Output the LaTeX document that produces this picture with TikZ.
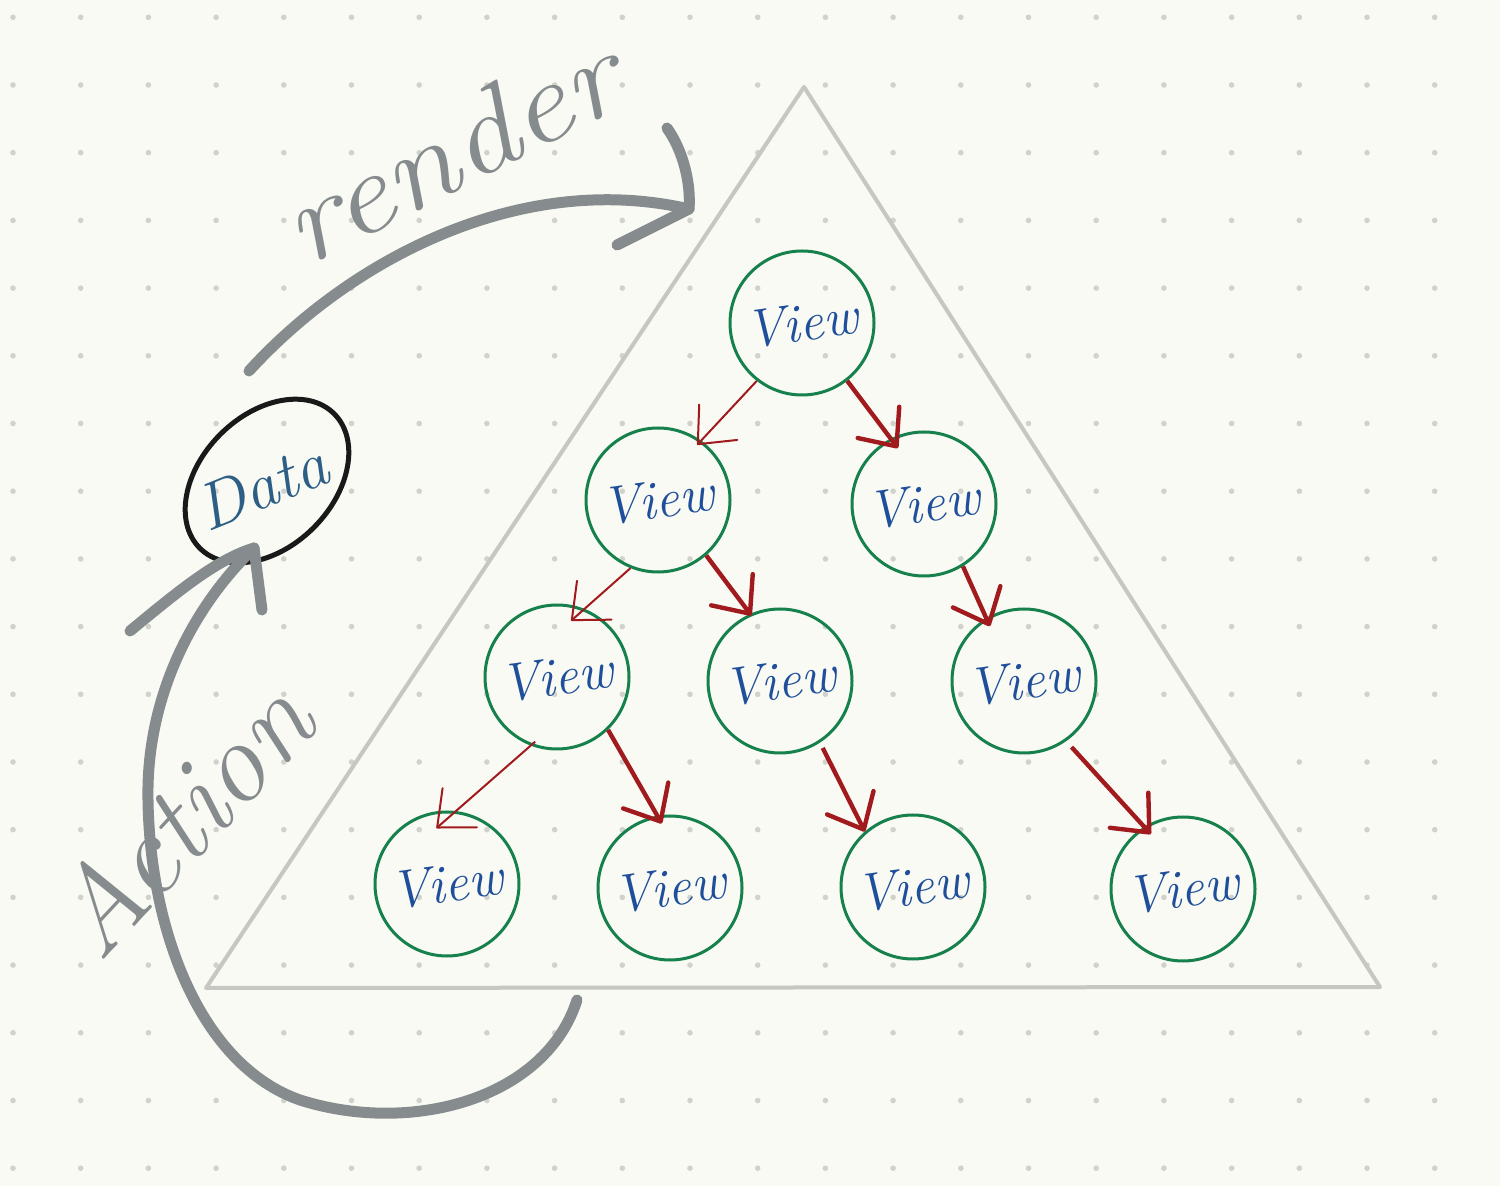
\documentclass[tikz,border=0pt]{standalone}
\usepackage{fontspec}
\usepackage{graphicx}
\usetikzlibrary{arrows.meta,shapes.geometric}
\definecolor{bgc}{HTML}{F9FAF3}
\definecolor{dotc}{HTML}{D2D2CC}
\definecolor{vgreen}{HTML}{17814E}
\definecolor{vblue}{HTML}{1F4F9A}
\definecolor{dblue}{HTML}{2C5E86}
\definecolor{ared}{HTML}{A11A1E}
\definecolor{pgray}{HTML}{868B8D}
\definecolor{tgray}{HTML}{C6C6C2}
\begin{document}
\begin{tikzpicture}[x=0.5pt,y=-0.5pt,
  viewnode/.style={circle, draw=vgreen, line width=1.5pt, minimum size=72pt, inner sep=0pt,
    text=vblue, font=\fontsize{27}{27}\selectfont\itshape},
  thinred/.style={draw=ared, line width=1pt, -{Straight Barb[length=15pt,width=26pt,round]}},
  thickred/.style={draw=ared, line width=2.2pt, -{Straight Barb[length=15pt,width=26pt,round]}},
  grayline/.style={draw=pgray, line width=5.5pt, line cap=round, line join=round},
  graytext/.style={text=pgray, font=\fontsize{58}{58}\selectfont\itshape, anchor=base},
  trianglestyle/.style={draw=tgray, line width=2pt, line join=round}]
\fill[bgc] (0,0) rectangle (1500,1186);
\useasboundingbox (0,0) rectangle (1500,1186);
% dot grid
\foreach \i in {0,...,21} {
  \foreach \j in {0,...,17} {
    \fill[dotc] ({13+67.7*\i},{17.3+67.7*\j}) circle (2.8);
  }
}
% triangle
\coordinate (apex) at (804,87);
\coordinate (tright) at (1380,987);
\coordinate (tleft) at (206,988);
\draw[trianglestyle] (apex) -- (tright) -- (tleft) -- cycle;
% view nodes
\node[viewnode] (top) at (802,323) {\rotatebox{8}{View}};
\node[viewnode] (r2l) at (658,500) {\rotatebox{8}{View}};
\node[viewnode] (r2r) at (924,504) {\rotatebox{8}{View}};
\node[viewnode] (r3l) at (557,677) {\rotatebox{8}{View}};
\node[viewnode] (r3m) at (780,681) {\rotatebox{8}{View}};
\node[viewnode] (r3r) at (1024,681) {\rotatebox{8}{View}};
\node[viewnode] (r4a) at (447,884) {\rotatebox{8}{View}};
\node[viewnode] (r4b) at (670,888) {\rotatebox{8}{View}};
\node[viewnode] (r4c) at (913,887) {\rotatebox{8}{View}};
\node[viewnode] (r4d) at (1183,889) {\rotatebox{8}{View}};
% red arrows
\draw[thinred, shorten >=-3pt] (top.-128) -- (r2l.54);
\draw[thickred, shorten >=-6pt] (top.-52) -- (r2r.117);
\draw[thinred, shorten >=-9pt] (r2l.-112) -- (r3l.68);
\draw[thickred, shorten >=-1pt] (r2l.-49) -- (r3m.114);
\draw[thickred, shorten >=-4.5pt] (r2r.-58) -- (r3r.121);
\draw[thinred, shorten <=-3pt, shorten >=-13pt] (r3l.-111) -- (r4a.83);
\draw[thickred, shorten >=-4.5pt] (r3l.-46) -- (r4b.100);
\draw[thickred, shorten <=3pt] (r3m.-57) -- (r4c.131);
\draw[thickred, shorten <=4pt, shorten >=-5pt] (r3r.-55) -- (r4d.122);
% data
\node[ellipse, draw=black!90, line width=2.5pt, minimum width=95pt, minimum height=66pt,
  inner sep=0pt, rotate=45] (data) at (267,481) {};
\node[text=dblue, font=\fontsize{33}{33}\selectfont\itshape, rotate=22] (datatext) at (262,486) {Data};
% render arrow
\coordinate (rstart) at (249,371);
\coordinate (rtip) at (689,209);
\coordinate (rarmup) at (667,128);
\coordinate (rarmlow) at (617,245);
\draw[grayline] (rstart) .. controls (350,260) and (520,170) .. (rtip);
\draw[grayline] (rarmup) .. controls (684,152) and (691,185) .. (rtip);
\draw[grayline] (rarmlow) -- (rtip);
\node[graytext, rotate=27] (rendertext) at (468,185) {\scalebox{1.15}[1]{render}};
% action arrow
\coordinate (astart) at (577,1000);
\coordinate (atip) at (254,548);
\coordinate (aarmleft) at (130,631);
\coordinate (aarmright) at (262,610);
\draw[grayline] (astart) .. controls (545,1100) and (410,1135) .. (300,1100)
  .. controls (200,1065) and (150,930) .. (148,800)
  .. controls (146,700) and (190,610) .. (atip);
\draw[grayline] (aarmleft) .. controls (175,594) and (215,560) .. (atip);
\draw[grayline] (aarmright) -- (atip);
\node[graytext, rotate=47] (actiontext) at (210,846) {Action};
\end{tikzpicture}
\end{document}
